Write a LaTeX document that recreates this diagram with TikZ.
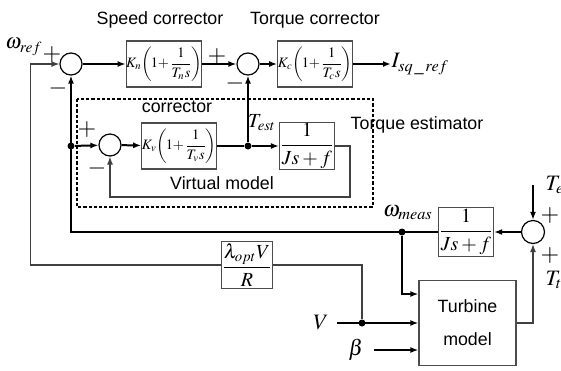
\documentclass[tikz,border=0pt]{standalone}
\usepackage{amsmath}
\usepackage{mathptmx}
\usepackage[no-math]{fontspec}
\setmainfont{Liberation Sans}
\usetikzlibrary{arrows.meta}

\begin{document}
\begin{tikzpicture}[x=0.5pt,y=-0.5pt,line width=0.5pt,
		blk/.style={draw=black!70,line width=0.6pt,inner sep=0pt,font=\fontsize{10}{12}\selectfont},
		kblk/.style={blk,minimum width=37pt,minimum height=23pt,font=\fontsize{7.2}{9}\selectfont},
		sumnode/.style={draw,circle,line width=0.6pt,minimum size=11pt,inner sep=0pt},
		jdot/.style={circle,fill,inner sep=0pt,minimum size=3.5pt},
		sig/.style={line width=1pt,-{Latex[length=4pt,width=3pt]}},
		lwire/.style={draw=black!75,line width=0.6pt},
		lbl/.style={font=\fontsize{8.9}{11}\selectfont,inner sep=0.5pt},
		pm/.style={font=\fontsize{12}{12}\selectfont,inner sep=0pt},
		var/.style={font=\fontsize{11}{12}\selectfont,inner sep=0pt}]
	\useasboundingbox (0,0) rectangle (561,370);
	\node[lbl] (tsc) at (160,20) {Speed corrector};
	\node[lbl] (ttc) at (315,20) {Torque corrector};
	\node[var,font=\fontsize{10.5}{12}\selectfont] (wref) at (24,47) {$\omega_{ref}$};
	\node[sumnode] (s1) at (71,64) {};
	\node[kblk] (kn) at (164,64) {$K_n\!\left(\!1{+}\dfrac{1}{T_n s}\!\right)$};
	\node[sumnode] (s2) at (248,64) {};
	\node[kblk] (kc) at (315,64) {$K_c\!\left(\!1{+}\dfrac{1}{T_c s}\!\right)$};
	\node[var,anchor=west] (isq) at (391,64) {$I_{sq\,\_\,ref}$};
	\draw[line width=0.9pt,dash pattern=on 1.6pt off 1pt] (77,99) rectangle (373,207);
	\node[lbl] (tcor) at (177,107) {corrector};
	\node[lbl] (test) at (417,125) {Torque estimator};
	\node[lbl] (tvm) at (222,183) {Virtual model};
	\node[sumnode] (s3) at (110,145) {};
	\node[kblk] (kv) at (179,146) {$K_v\!\left(\!1{+}\dfrac{1}{T_v s}\!\right)$};
	\node[jdot] (d1) at (71,146) {};
	\node[jdot] (d2) at (248,146) {};
	\node[blk,minimum width=25.5pt,minimum height=23.5pt] (je) at (307,146) {$\dfrac{1}{Js+f}$};
	\node[var,font=\fontsize{10}{12}\selectfont] (lest) at (262,123) {$T_{est}$};
	\node[sumnode,minimum size=11.5pt] (s4) at (533,232) {};
	\node[blk,minimum width=24pt,minimum height=24.5pt] (jf) at (466,232) {$\dfrac{1}{Js+f}$};
	\node[jdot] (d3) at (402,232) {};
	\node[var] (lwm) at (408,213) {$\omega_{meas}$};
	\node[draw=black!70,line width=0.6pt,minimum width=48.5pt,minimum height=42.5pt,align=center,font=\fontsize{8.9}{16.5}\selectfont] (turb) at (467.5,323) {Turbine\\model};
	\node[blk,minimum width=24pt,minimum height=23.5pt] (lam) at (247,265) {$\dfrac{\lambda_{opt}V}{R}$};
	\node[var] (lv) at (321,323) {$V$};
	\node[var] (lb) at (356,350) {$\beta$};
	\node[jdot] (d4) at (362,323) {};
	\coordinate (te) at (533,185);
	\node[var,anchor=west] (lte) at (545,185) {$T_e$};
	\node[var,anchor=west] (ltt) at (545,280) {$T_t$};
	\foreach \x/\y/\s [count=\i] in {52/55/+,58/88/-,217/57/+,235/83/-,87/130/+,97/168/-,550/215/+,550/255/+}
		\node[pm] (sg\i) at (\x,\y) {$\s$};
	\draw[sig] (s1) -- (kn);
	\draw[sig] (kn) -- (s2);
	\draw[sig] (s2) -- (kc);
	\draw[sig] (kc) -- (isq);
	\draw[sig] (d1) -- (s3);
	\draw[sig] (s3) -- (kv);
	\draw[line width=1pt] (kv) -- (d2);
	\draw[sig] (d2) -- (je);
	\draw[sig] (d2) -- (s2);
	\draw[lwire,-{Latex[length=4pt,width=3pt]}] (je.east) -| (350,197) -| (s3.south);
	\draw[sig] (jf.west) -| (s1.south);
	\draw[sig] (s4) -- (jf);
	\draw[sig] (te) -- (s4);
	\draw[lwire,-{Latex[length=4pt,width=3pt]}] (turb.east) -| (s4.south);
	\draw[sig] (d3) |- ([yshift=14.5pt]turb.west);
	\draw[sig] ([xshift=4pt]lv.east) -- (turb.west);
	\draw[sig] ([xshift=5pt]lb.east) -- ([yshift=-13.5pt]turb.west);
	\draw[lwire] (d4) |- (lam);
	\draw[lwire,-{Latex[length=4pt,width=3pt]}] (lam.west) -| ([xshift=-14.5pt]s1.west) -- (s1.west);
\end{tikzpicture}
\end{document}
